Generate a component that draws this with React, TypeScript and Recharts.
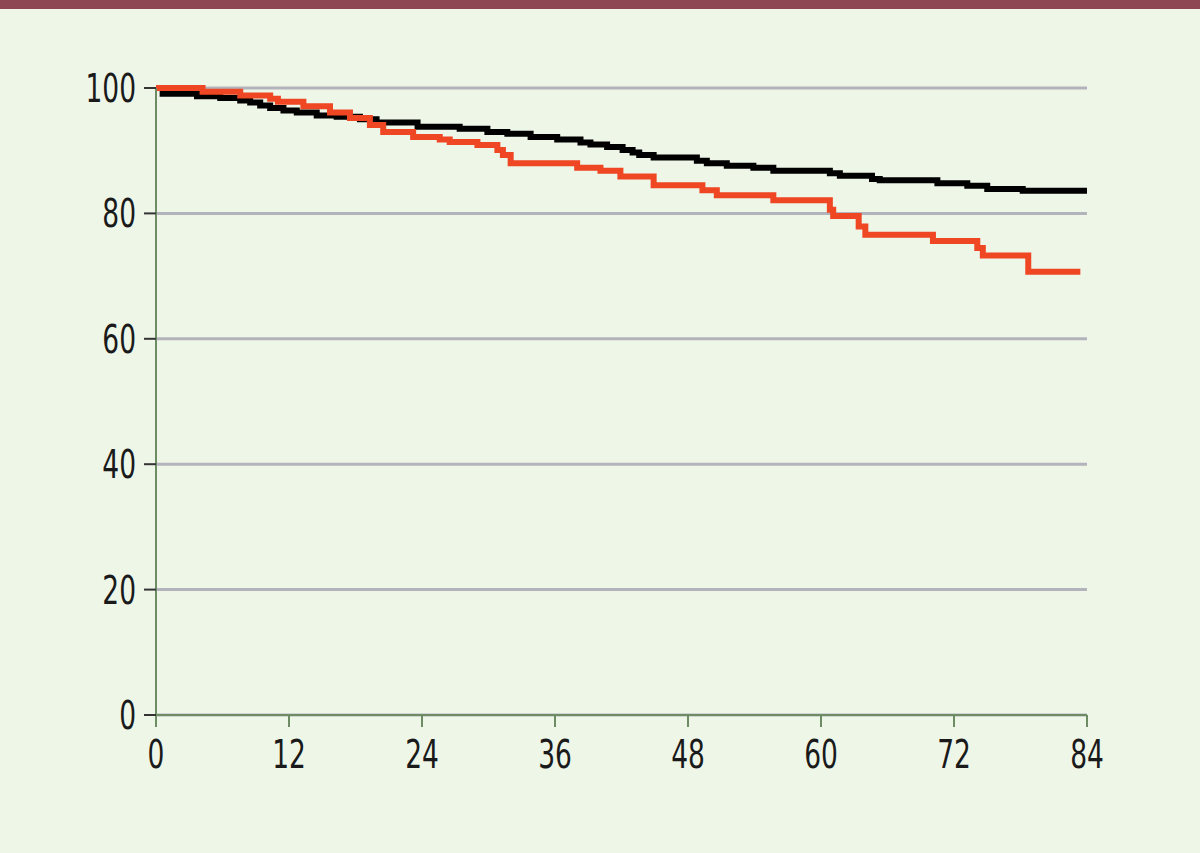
import { LineChart, Line, XAxis, YAxis, CartesianGrid } from "recharts";

const monthTicks = [0, 12, 24, 36, 48, 60, 72, 84];
const percentTicks = [0, 20, 40, 60, 80, 100];

const blackMonths = [
  0, 0.6, 3.7, 5.8, 7.6, 8.5, 9.4, 10.3, 11.5, 12.7, 14.5, 16.3, 18.4, 19.9,
  23.6, 27.4, 29.9, 31.7, 33.8, 36.2, 38.3, 39.2, 40.7, 42.1, 43.0, 43.6, 44.9,
  48.8, 49.7, 51.5, 53.9, 55.7, 60.8, 61.7, 64.6, 65.3, 70.5, 73.2, 75.0, 78.2,
  84,
];
const blackSurvival = [
  100, 99.1, 98.7, 98.4, 98.0, 97.7, 97.2, 96.8, 96.4, 96.1, 95.6, 95.4, 95.0,
  94.5, 93.8, 93.5, 93.0, 92.7, 92.2, 91.8, 91.3, 91.0, 90.6, 90.1, 89.7, 89.3,
  88.9, 88.4, 88.0, 87.6, 87.3, 86.8, 86.4, 86.0, 85.5, 85.3, 84.8, 84.4, 83.9,
  83.6, 83.6,
];

const redMonths = [
  0, 4.2, 7.6, 10.3, 11.0, 13.3, 15.7, 17.5, 19.3, 20.5, 23.2, 25.6, 26.5, 29.0,
  30.8, 31.3, 32.0, 38.0, 40.1, 41.9, 44.9, 49.3, 50.6, 55.7, 60.8, 61.1, 63.4,
  64.0, 70.1, 74.1, 74.6, 78.7, 83.4,
];
const redSurvival = [
  100, 99.4, 98.8, 98.3, 97.8, 97.1, 96.1, 95.2, 94.1, 93.0, 92.2, 91.8, 91.4,
  90.9, 90.1, 89.3, 88.0, 87.3, 86.8, 85.9, 84.5, 83.7, 82.9, 82.1, 80.6, 79.6,
  77.9, 76.6, 75.6, 74.5, 73.3, 70.7, 70.7,
];

const blackData = blackMonths.map((m, i) => ({ m, v: blackSurvival[i] }));
const redData = redMonths.map((m, i) => ({ m, v: redSurvival[i] }));

const axisGreen = "#6e8c64";

// narrow, tall digits like the printed figure
const CondensedTick = (props: any) => {
  const { x, y, payload, side } = props;
  const isY = side === "y";
  return (
    <g transform={`translate(${x},${y}) scale(0.68,1)`}>
      <text
        x={0}
        y={0}
        dy={isY ? "0.36em" : "0.71em"}
        textAnchor={isY ? "end" : "middle"}
        fill="#1a1a1a"
        fontSize={39}
        fontFamily="'DejaVu Sans', sans-serif"
      >
        {payload.value}
      </text>
    </g>
  );
};

export default function App() {
  return (
    <div
      style={{
        position: "absolute",
        left: 0,
        top: 0,
        width: 1200,
        height: 853,
        background: "#eef6e8",
      }}
    >
      <div style={{ height: 9, background: "#8e4854" }} />
      <div style={{ position: "absolute", left: 0, top: 0 }}>
        <LineChart
          width={1200}
          height={853}
          margin={{ top: 88, right: 113, bottom: 98, left: 96 }}
        >
          <CartesianGrid
            vertical={false}
            horizontal
            stroke="#b3b4bb"
            strokeWidth={3}
          />
          <XAxis
            dataKey="m"
            type="number"
            domain={[0, 84]}
            ticks={monthTicks}
            allowDuplicatedCategory={false}
            height={40}
            tickSize={12}
            tickMargin={13}
            stroke={axisGreen}
            strokeWidth={2}
            tickLine={{ stroke: axisGreen, strokeWidth: 2 }}
            tick={<CondensedTick side="x" />}
          />
          <YAxis
            type="number"
            domain={[0, 100]}
            ticks={percentTicks}
            width={60}
            tickSize={12}
            tickMargin={8}
            axisLine={{ stroke: axisGreen, strokeWidth: 2 }}
            tickLine={{ stroke: "#333333", strokeWidth: 2 }}
            tick={<CondensedTick side="y" />}
          />
          <Line
            data={blackData}
            dataKey="v"
            type="stepAfter"
            stroke="#000000"
            strokeWidth={6}
            dot={false}
            isAnimationActive={false}
          />
          <Line
            data={redData}
            dataKey="v"
            type="stepAfter"
            stroke="#ef4623"
            strokeWidth={6}
            dot={false}
            isAnimationActive={false}
          />
        </LineChart>
      </div>
    </div>
  );
}
